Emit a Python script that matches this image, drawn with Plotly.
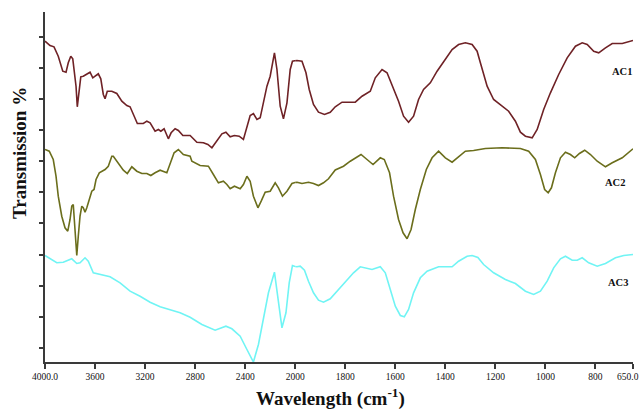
import plotly.graph_objects as go

# ---------------- data (wavenumber cm-1, relative transmission) ----------------
ac1_wn = [4000, 3960, 3928, 3894, 3858, 3832, 3814, 3794, 3778, 3766, 3752, 3742, 3728, 3714,
          3694, 3666, 3640, 3618, 3600, 3574, 3554, 3534, 3520, 3502, 3466, 3426, 3386, 3346,
          3320, 3294, 3262, 3214, 3186, 3160, 3120, 3094, 3074, 3048, 3014, 2992, 2960, 2934,
          2898, 2840, 2786, 2734, 2698, 2666, 2626, 2586, 2554, 2520, 2486, 2448, 2414, 2386,
          2360, 2334, 2306, 2280, 2254, 2226, 2200, 2182, 2166, 2146, 2120, 2094, 2066, 2040,
          2022, 1993, 1973, 1957, 1944, 1927, 1907, 1883, 1860, 1840, 1813, 1760, 1733, 1700,
          1680, 1653, 1633, 1607, 1587, 1567, 1547, 1527, 1507, 1487, 1460, 1433, 1400, 1373,
          1347, 1320, 1293, 1273, 1260, 1233, 1207, 1180, 1147, 1120, 1100, 1080, 1053, 1033,
          1007, 980, 947, 913, 880, 853, 833, 807, 787, 760, 733, 693, 673, 650]
ac1_t = [320.8, 316.5, 315.2, 305.8, 290.8, 289.8, 299.2, 305.8, 303.2, 292.5, 275.8, 255.2, 270.8, 285.2,
         285.8, 287.5, 289.8, 284.2, 285.8, 288.2, 283.2, 267.5, 263.2, 270.8, 270.8, 268.5, 260.8, 256.5,
         255.2, 247.5, 238.5, 238.5, 240.8, 239.2, 230.8, 232.5, 230.8, 233.2, 223.2, 229.2, 233.2, 231.5,
         226.5, 226.5, 219.8, 219.2, 217.5, 214.2, 220.8, 228.2, 229.8, 225.2, 226.5, 225.8, 222.5, 235.8,
         246.5, 248.5, 242.5, 244.2, 260.8, 275.8, 285.8, 299.2, 309.2, 292.5, 255.8, 243.2, 259.2, 292.5,
         300.8, 301.5, 300.8, 289.2, 272.5, 257.5, 249.8, 247.5, 249.8, 255.2, 259.8, 259.8, 265.8, 270.8,
         284.2, 292.5, 289.2, 274.2, 260.8, 245.8, 239.8, 245.8, 262.5, 272.5, 279.2, 290.8, 302.5, 312.5,
         317.5, 319.2, 317.5, 310.8, 299.2, 275.8, 262.5, 257.5, 250.8, 240.8, 229.8, 225.8, 224.2, 232.5,
         252.5, 269.2, 287.5, 304.2, 315.8, 319.2, 317.5, 310.8, 309.2, 314.2, 318.5, 318.5, 319.8, 321.5]

ac2_wn = [4000, 3966, 3934, 3912, 3894, 3866, 3840, 3818, 3800, 3786, 3774, 3766, 3752, 3746,
          3734, 3720, 3706, 3694, 3680, 3666, 3646, 3626, 3608, 3592, 3566, 3520, 3494, 3466,
          3454, 3414, 3374, 3342, 3306, 3266, 3226, 3186, 3154, 3120, 3080, 3026, 2994, 2968,
          2934, 2894, 2840, 2826, 2760, 2694, 2654, 2614, 2574, 2546, 2520, 2486, 2440, 2414,
          2386, 2360, 2334, 2298, 2272, 2240, 2200, 2160, 2134, 2102, 2066, 2026, 1993, 1973,
          1947, 1927, 1907, 1887, 1867, 1840, 1807, 1780, 1737, 1713, 1689, 1660, 1644, 1623,
          1607, 1587, 1569, 1553, 1537, 1520, 1500, 1476, 1453, 1427, 1400, 1373, 1347, 1320,
          1287, 1240, 1173, 1100, 1067, 1040, 1020, 1003, 989, 976, 960, 940, 920, 900, 883,
          864, 843, 820, 793, 760, 733, 693, 650]
ac2_t = [212.5, 210.8, 202.5, 185.8, 165.8, 145.8, 134.2, 130.8, 142.5, 155.8, 157.5, 142.5, 119.2, 106.5,
         125.8, 145.8, 155.8, 154.2, 149.8, 154.2, 162.5, 170.8, 172.5, 182.5, 189.2, 192.5, 195.8, 205.8,
         205.8, 199.2, 191.8, 188.5, 195.2, 190.8, 188.5, 188.5, 186.5, 189.2, 191.8, 189.2, 199.2, 209.2,
         212.5, 207.5, 205.8, 200.8, 196.5, 195.8, 187.5, 179.2, 180.8, 177.5, 173.2, 175.8, 173.2, 177.5,
         185.8, 180.8, 165.8, 154.2, 160.8, 169.8, 170.8, 179.2, 174.2, 165.8, 170.8, 178.5, 179.8, 178.5,
         179.8, 178.5, 176.5, 179.2, 183.2, 192.0, 195.8, 200.8, 207.5, 202.5, 197.5, 204.2, 202.5, 189.2,
         165.8, 142.5, 129.2, 123.2, 132.5, 152.5, 172.5, 192.5, 204.2, 210.8, 204.2, 199.8, 205.2, 210.8,
         211.5, 213.5, 214.2, 213.5, 210.8, 202.5, 187.5, 172.5, 169.2, 174.2, 189.2, 204.2, 209.8, 207.5, 204.2,
         208.5, 211.8, 207.5, 200.8, 195.2, 199.2, 204.2, 213.2]

ac3_wn = [4000, 3960, 3906, 3854, 3786, 3746, 3720, 3680, 3654, 3614, 3560, 3480, 3400, 3320,
          3240, 3160, 3080, 3000, 2920, 2840, 2746, 2640, 2554, 2506, 2440, 2386, 2334, 2294,
          2254, 2214, 2166, 2138, 2106, 2074, 2048, 2022, 1993, 1980, 1963, 1947, 1927, 1907,
          1887, 1860, 1833, 1800, 1767, 1740, 1720, 1693, 1660, 1640, 1620, 1600, 1580, 1564,
          1547, 1527, 1500, 1473, 1427, 1373, 1347, 1313, 1293, 1270, 1247, 1207, 1160, 1120,
          1080, 1047, 1020, 993, 967, 940, 920, 893, 873, 853, 827, 793, 760, 720, 687, 650]
ac3_t = [106.5, 103.2, 99.2, 99.8, 103.2, 98.5, 99.2, 104.2, 100.8, 89.2, 87.5, 85.2, 79.2, 70.8,
         65.8, 59.8, 55.2, 52.5, 49.2, 44.8, 37.5, 31.8, 35.8, 33.2, 25.8, 12.5, 0.0, 17.5,
         42.5, 69.2, 89.8, 65.8, 34.2, 49.2, 79.2, 96.5, 95.2, 95.8, 91.8, 80.8, 69.2, 61.8,
         59.8, 63.2, 70.8, 79.2, 89.2, 95.2, 94.2, 92.5, 95.2, 89.2, 72.5, 55.8, 46.5, 45.2,
         52.5, 69.2, 84.2, 90.8, 95.2, 95.2, 100.8, 105.8, 106.5, 104.5, 97.5, 89.2, 82.5, 78.5,
         70.8, 67.5, 70.8, 80.8, 94.2, 103.2, 105.8, 101.8, 101.8, 104.2, 99.2, 95.8, 98.5, 104.2, 106.5, 107.5]

series_names = ["AC1", "AC2", "AC3"]
series_colors = ["#6F2226", "#6B6E1C", "#70F4F4"]

hi_ticks = [4000, 3600, 3200, 2800, 2400, 2000]
hi_labels = ["4000.0", "3600", "3200", "2800", "2400", "2000"]
lo_ticks = [1800, 1600, 1400, 1200, 1000, 800, 650]
lo_labels = ["1800", "1600", "1400", "1200", "1000", "800", ""]
end_label = "650.0"
y_ticks = [14.2 + 31.1 * k for k in range(11)]

# ---------------- figure ----------------
SPLIT = 2000
FRAC = 5 / 11.75  # 4000-2000 occupies 5 of 11.75 equal tick steps

fig = go.Figure()
all_wn = [ac1_wn, ac2_wn, ac3_wn]
all_t = [ac1_t, ac2_t, ac3_t]
for name, col, wn, t in zip(series_names, series_colors, all_wn, all_t):
    idx_hi = [i for i, w in enumerate(wn) if w >= SPLIT]
    idx_hi = idx_hi + [idx_hi[-1] + 1]
    idx_lo = [i for i, w in enumerate(wn) if w <= SPLIT]
    idx_lo = [idx_lo[0] - 1] + idx_lo
    fig.add_trace(go.Scatter(x=[wn[i] for i in idx_hi], y=[t[i] for i in idx_hi],
                             mode="lines", line=dict(color=col, width=1.6),
                             xaxis="x", yaxis="y", name=name, showlegend=False))
    fig.add_trace(go.Scatter(x=[wn[i] for i in idx_lo], y=[t[i] for i in idx_lo],
                             mode="lines", line=dict(color=col, width=1.6),
                             xaxis="x2", yaxis="y", name=name, showlegend=False))

axis_col = "#3a3a3a"
tickfont = dict(family="Liberation Serif", size=9.5, color="#111111")
common_x = dict(showline=True, linecolor=axis_col, linewidth=2, ticks="outside",
                ticklen=5, tickwidth=1.5, tickcolor=axis_col, showgrid=False,
                zeroline=False, tickfont=tickfont, anchor="y", automargin=False)
fig.update_layout(
    width=643, height=410,
    margin=dict(l=45, r=10, t=12, b=48, autoexpand=False),
    paper_bgcolor="white", plot_bgcolor="white",
    xaxis=dict(domain=[0, FRAC], range=[4000, 2000], tickvals=hi_ticks, ticktext=hi_labels, **common_x),
    xaxis2=dict(domain=[FRAC, 1], range=[2000, 650], tickvals=lo_ticks, ticktext=lo_labels, **common_x),
    yaxis=dict(range=[0, 350], showline=True, linecolor=axis_col, linewidth=2, ticks="outside",
               ticklen=4, tickwidth=1.5, tickcolor=axis_col, tickvals=y_ticks, automargin=False,
               showticklabels=False, showgrid=False, zeroline=False),
    showlegend=False,
)

# last tick label, nudged left so it stays inside the picture
fig.add_annotation(x=650, y=0, xref="x2", yref="y", text=end_label, showarrow=False,
                   xanchor="center", yanchor="top", xshift=-5, yshift=-8,
                   font=tickfont)

label_pos = [(693, 290.8), (720, 179.2), (709, 79.2)]
for name, (lx, ly) in zip(series_names, label_pos):
    fig.add_annotation(x=lx, y=ly, xref="x2", yref="y", text="<b>" + name + "</b>",
                       xanchor="center", yanchor="middle",
                       showarrow=False, font=dict(family="Liberation Serif", size=10.5, color="#111111"))

fig.add_annotation(x=(330 - 45) / 588, y=(362 - 397) / 350, xref="paper", yref="paper",
                   text="<b>Wavelength (cm<sup>-1</sup>)</b>", showarrow=False,
                   xanchor="center", yanchor="middle",
                   font=dict(family="Liberation Serif", size=19, color="#111111"))
fig.add_annotation(x=(20 - 45) / 588, y=(362 - 153) / 350, xref="paper", yref="paper",
                   text="<b>Transmission %</b>", showarrow=False, textangle=-90,
                   xanchor="center", yanchor="middle",
                   font=dict(family="Liberation Serif", size=19, color="#111111"))

fig.write_html("out.html", config={"displayModeBar": False},
               post_script="document.body.style.margin='0';document.body.style.padding='0';")
